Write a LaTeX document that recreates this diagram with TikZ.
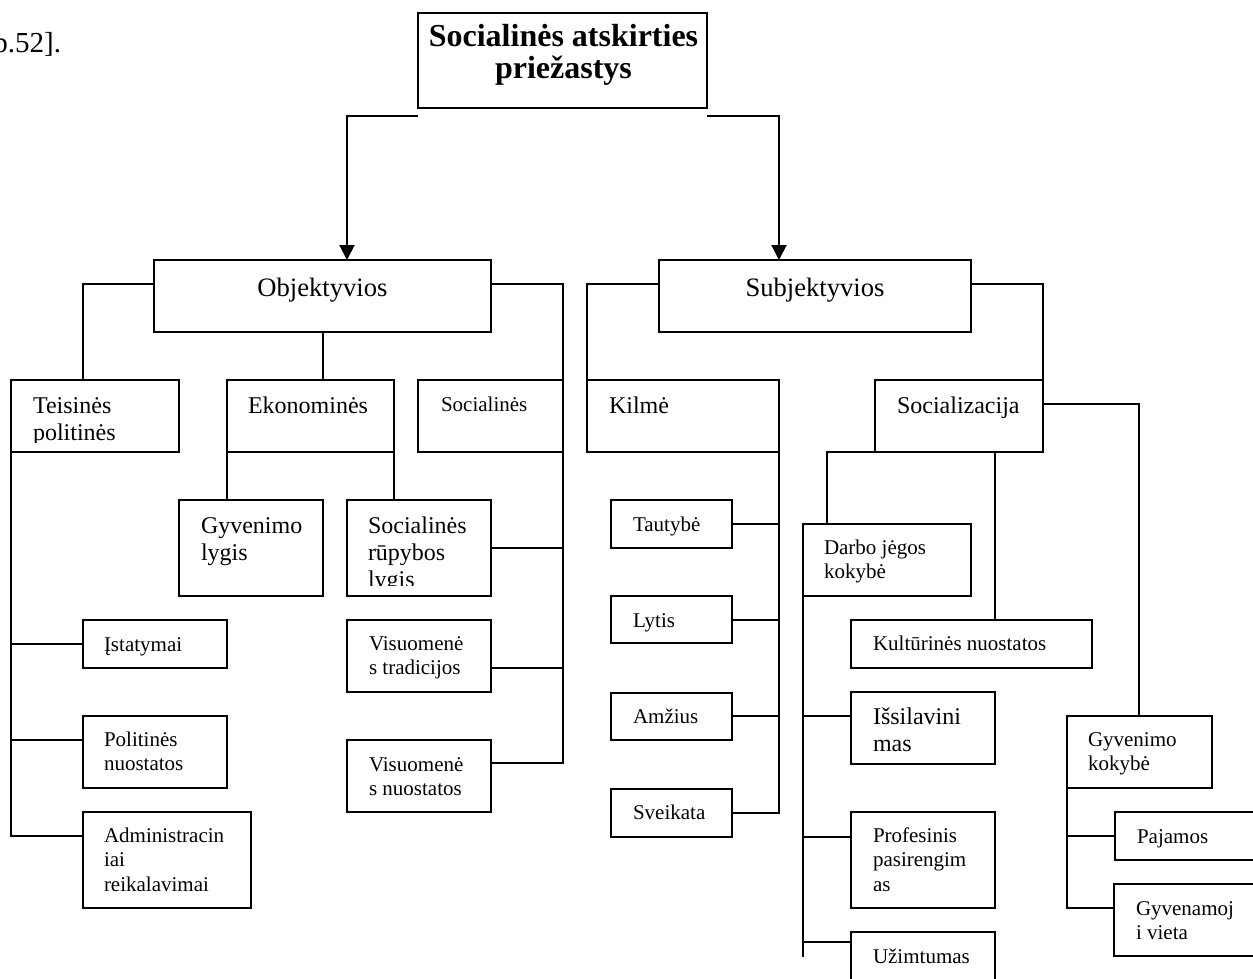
\documentclass[tikz,border=0pt]{standalone}
\usepackage{fontspec}
\setmainfont{Liberation Serif}
\usetikzlibrary{arrows.meta,calc,fit}
\newcommand\txl[1]{\begin{tabular}[t]{@{}l@{}}#1\end{tabular}}
\newcommand\bx[5]{\node[box, fit={(#2,#3) (#4,#5)}] (#1) {};}
\begin{document}
\begin{tikzpicture}[x=1pt,y=-1pt,line width=2pt,
  box/.style={draw,inner sep=0pt,outer sep=0pt,line width=2pt},
  tA/.style={font=\fontsize{21}{24.5}\selectfont,anchor=base west,inner sep=0pt},
  tB/.style={font=\fontsize{24}{27}\selectfont,anchor=base west,inner sep=0pt},
  tC/.style={font=\fontsize{26.6}{30}\selectfont,anchor=base,inner sep=0pt},
  arr/.style={-{Triangle[width=15pt,length=15pt]}}]
\useasboundingbox (0,0) rectangle (1253,979);
% boxes
\bx{title}{418}{13}{707}{108}
\bx{obj}{154}{260}{491}{332}
\bx{subj}{659}{260}{971}{332}
\bx{teis}{11}{380}{179}{452}
\bx{eko}{227}{380}{394}{452}
\bx{soc1}{418}{380}{563}{452}
\bx{kil}{587}{380}{779}{452}
\bx{soz}{875}{380}{1043}{452}
\bx{gl}{179}{500}{323}{596}
\bx{sr}{347}{500}{491}{596}
\bx{ist}{83}{620}{227}{668}
\bx{pol}{83}{716}{227}{788}
\bx{adm}{83}{812}{251}{908}
\bx{vt}{347}{620}{491}{692}
\bx{vn}{347}{740}{491}{812}
\bx{taut}{611}{500}{732}{548}
\bx{lyt}{611}{596}{732}{643}
\bx{amz}{611}{693}{732}{740}
\bx{sve}{611}{789}{732}{837}
\bx{dj}{803}{524}{971}{596}
\bx{kult}{851}{620}{1092}{668}
\bx{isl}{851}{692}{995}{764}
\bx{prof}{851}{812}{995}{908}
\bx{uzim}{851}{932}{995}{1000}
\bx{gk}{1067}{716}{1212}{788}
\bx{paj}{1115}{812}{1262}{860}
\bx{gyv}{1114}{884}{1262}{956}
% texts
\node[font=\fontsize{29}{32}\selectfont,anchor=base west,inner sep=0pt] (ref) at (-7.5,53) {p.52].};
\node[font=\bfseries\fontsize{32}{31}\selectfont,anchor=base,inner sep=0pt] (title-t) at ($(title.north)+(1,34)$) {\begin{tabular}[t]{@{}c@{}}Socialinės atskirties\\priežastys\end{tabular}};
\node[tC] (obj-t) at ($(obj.north)+(0,36)$) {Objektyvios};
\node[tC] (subj-t) at ($(subj.north)+(0,36)$) {Subjektyvios};
\begin{scope}
\clip (teis.north west) rectangle ($(teis.south east)+(0,-10)$);
\node[tB] (teis-t) at ($(teis.north west)+(21,33)$) {\txl{Teisinės\\politinės}};
\end{scope}
\node[tB] (eko-t) at ($(eko.north west)+(20,33)$) {Ekonominės};
\node[tA] (soc1-t) at ($(soc1.north west)+(22,31)$) {Socialinės};
\node[tB] (kil-t) at ($(kil.north west)+(21,33)$) {Kilmė};
\node[tB] (soz-t) at ($(soz.north west)+(21,33)$) {Socializacija};
\node[tB] (gl-t) at ($(gl.north west)+(21,33)$) {\txl{Gyvenimo\\lygis}};
\begin{scope}
\clip (sr.north west) rectangle ($(sr.south east)+(0,-11)$);
\node[tB] (sr-t) at ($(sr.north west)+(20,33)$) {\txl{Socialinės\\rūpybos\\lygis}};
\end{scope}
\node[tA] (ist-t) at ($(ist.north west)+(20,31)$) {Įstatymai};
\node[tA] (pol-t) at ($(pol.north west)+(20,30)$) {\txl{Politinės\\nuostatos}};
\node[tA] (adm-t) at ($(adm.north west)+(20,30)$) {\txl{Administracin\\iai\\reikalavimai}};
\node[tA] (vt-t) at ($(vt.north west)+(21,30)$) {\txl{Visuomenė\\s tradicijos}};
\node[tA] (vn-t) at ($(vn.north west)+(21,31)$) {\txl{Visuomenė\\s nuostatos}};
\node[tA] (taut-t) at ($(taut.north west)+(21,31)$) {Tautybė};
\node[tA] (lyt-t) at ($(lyt.north west)+(21,31)$) {Lytis};
\node[tA] (amz-t) at ($(amz.north west)+(21,30)$) {Amžius};
\node[tA] (sve-t) at ($(sve.north west)+(21,30)$) {Sveikata};
\node[tA] (dj-t) at ($(dj.north west)+(20,30)$) {\txl{Darbo jėgos\\kokybė}};
\node[tA] (kult-t) at ($(kult.north west)+(21,30)$) {Kultūrinės nuostatos};
\node[tB] (isl-t) at ($(isl.north west)+(21,32)$) {\txl{Išsilavini\\mas}};
\node[tA] (prof-t) at ($(prof.north west)+(21,30)$) {\txl{Profesinis\\pasirengim\\as}};
\node[tA] (uzim-t) at ($(uzim.north west)+(21,31)$) {Užimtumas};
\node[tA] (gk-t) at ($(gk.north west)+(20,30)$) {\txl{Gyvenimo\\kokybė}};
\node[tA] (paj-t) at ($(paj.north west)+(21,31)$) {Pajamos};
\node[tA] (gyv-t) at ($(gyv.north west)+(21,31)$) {\txl{Gyvenamoj\\i vieta}};
% connectors
\draw[arr] ($(title.south west)+(0,8)$) -| ($(obj.north west)+(193,0)$);
\draw[arr] ($(title.south east)+(0,8)$) -| ($(subj.north west)+(120,0)$);
\draw ($(obj.north west)+(0,24)$) -| ($(teis.north west)+(72,0)$);
\draw ($(obj.north east)+(0,24)$) -| (soc1.north east);
\coordinate (ob) at ($(obj.south west)+(169,0)$);
\draw (ob) -- (ob |- eko.north);
\draw (eko.south west) -- (eko.south west |- gl.north);
\draw (eko.south east) -- (eko.south east |- sr.north);
\draw (sr.east) -| (soc1.south east);
\draw ($(vt.south east)+(0,-24)$) -| (soc1.south east);
\draw ($(vn.north east)+(0,23)$) -| (soc1.south east);
\draw (ist.west) -| (teis.south west);
\draw ($(pol.north west)+(0,24)$) -| (teis.south west);
\draw ($(adm.north west)+(0,24)$) -| (teis.south west);
\draw ($(subj.north west)+(0,24)$) -| (kil.north west);
\draw ($(subj.north east)+(0,24)$) -| (soz.north east);
\draw (taut.east) -| (kil.south east);
\draw ($(lyt.north east)+(0,24)$) -| (kil.south east);
\draw ($(amz.north east)+(0,23)$) -| (kil.south east);
\draw (sve.east) -| (kil.south east);
\draw ($(soz.north east)+(0,24)$) -| ($(gk.north west)+(72,0)$);
\draw (soz.south west) -| ($(dj.north west)+(24,0)$);
\coordinate (kx) at ($(soz.south west)+(120,0)$);
\draw (kx) -- (kx |- kult.north);
\coordinate (djend) at ($(dj.south west)+(0,361)$);
\draw (dj.south west) -- (djend);
\draw ($(isl.north west)+(0,24)$) -| (dj.south west);
\draw ($(prof.north west)+(0,25)$) -| (dj.south west);
\draw ($(uzim.north west)+(0,10)$) -| (dj.south west);
\draw ($(paj.north west)+(0,24)$) -| (gk.south west);
\draw ($(gyv.north west)+(0,24)$) -| (gk.south west);
\end{tikzpicture}
\end{document}
